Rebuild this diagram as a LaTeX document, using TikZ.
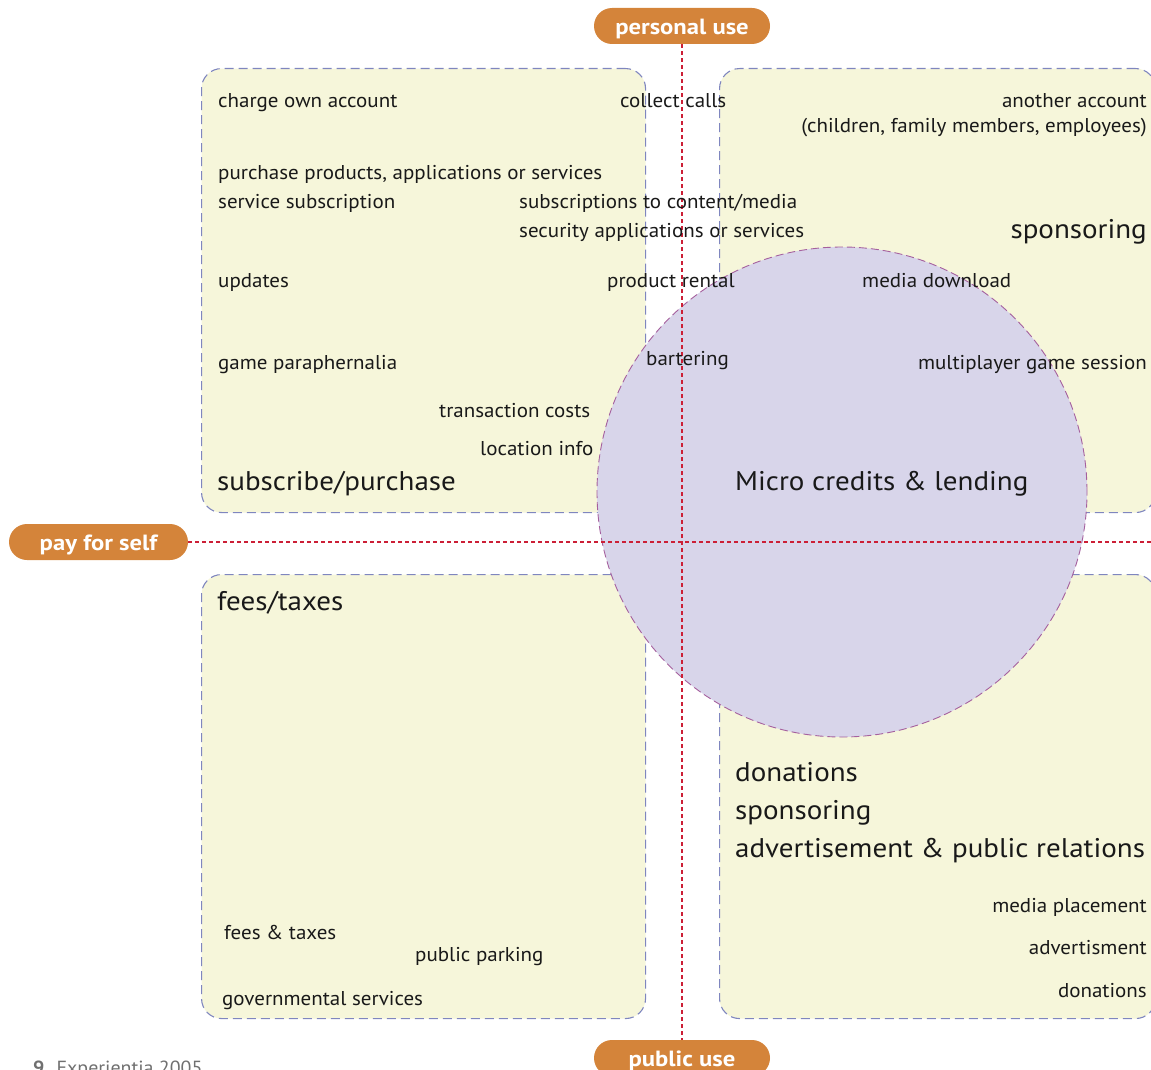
\documentclass[tikz,border=0pt]{standalone}
\usepackage{fontspec}
\setmainfont{PT Sans}
\newfontfamily\smfont[FakeStretch=1.05]{PT Sans}
\newfontfamily\lgfont[FakeStretch=1.075]{PT Sans}
\newfontfamily\pillfont[FakeStretch=1.12]{PT Sans}
\newfontfamily\footfont[FakeStretch=1.05]{PT Sans}
\definecolor{boxfill}{HTML}{F6F6DA}
\definecolor{boxline}{HTML}{7F86BF}
\definecolor{circfill}{HTML}{D8D5EA}
\definecolor{circline}{HTML}{A5609E}
\definecolor{redl}{HTML}{CC1F36}
\definecolor{pillor}{HTML}{D4843A}
\definecolor{footgray}{HTML}{707070}
\begin{document}
\begin{tikzpicture}[x=1pt,y=-1pt,
  qbox/.style={draw=boxline, fill=boxfill, dash pattern=on 9pt off 5pt, line width=1.1pt,
    rounded corners=20pt, minimum width=444pt, minimum height=444pt, inner sep=0pt, anchor=north west},
  pill/.style={fill=pillor, text=white, font=\pillfont\bfseries\fontsize{22}{24}\selectfont,
    rounded corners=18pt, minimum height=36pt, inner sep=0pt, text height=20pt, text depth=3pt},
  redline/.style={draw=redl, line width=2pt, dash pattern=on 4pt off 3pt},
  sm/.style={font=\smfont\fontsize{20}{23}\selectfont, inner sep=0pt, text=black!90},
  lg/.style={font=\lgfont\fontsize{27}{30}\selectfont, inner sep=0pt, text=black!90},
  lw/.style={anchor=base west}, re/.style={anchor=base east}]
\useasboundingbox (0,0) rectangle (1151,1070);
\clip (0,0) rectangle (1151,1070);
% quadrants
\node[qbox] (tl) at (201,68) {};
\node[qbox, minimum width=436pt] (tr) at (719,68) {};
\node[qbox] (bl) at (201,574) {};
\node[qbox, minimum width=436pt] (br) at (719,574) {};
% circle
\node[circle, minimum size=490pt, inner sep=0pt, fill=circfill, draw=circline,
  line width=0.9pt, dash pattern=on 8pt off 4pt] (cred) at (842,492) {};
% pills
\node[pill, minimum width=176pt] (personal) at (682,26) {personal use};
\node[pill, minimum width=176pt] (public) at (682,1058) {public use};
\node[pill, minimum width=179pt] (payself) at (98.5,542) {pay for self};
\coordinate (rightend) at (1151,542);
% axes
\draw[redline] (personal.south) -- (public.north);
\draw[redline] (payself.east) -- (rightend);
% texts top-left
\node[sm,lw] (t1) at (218,108) {charge own account};
\node[sm,lw] (t2) at (620,108) {collect calls};
\node[sm,lw] (t3) at (218,179) {purchase products, applications or services};
\node[sm,lw] (t4) at (218,208) {service subscription};
\node[sm,lw] (t5) at (519,208) {subscriptions to content/media};
\node[sm,lw] (t6) at (519,237) {security applications or services};
\node[sm,lw] (t7) at (218,287) {updates};
\node[sm,lw] (t8) at (607,287) {product rental};
\node[sm,lw] (t9) at (218,369) {game paraphernalia};
\node[sm,lw] (t10) at (646,365) {bartering};
\node[sm,lw] (t11) at (439,417) {transaction costs};
\node[sm,lw] (t12) at (480,455) {location info};
\node[lg,lw] (t13) at (217,490) {subscribe/purchase};
% top-right
\node[sm,re] (t14) at (1147,108) {another account};
\node[sm,re] (t15) at (1147,132) {(children, family members, employees)};
\node[lg,re] (t16) at (1147,238) {sponsoring};
\node[sm,lw] (t17) at (862,287) {media download};
\node[sm,re] (t18) at (1147,369) {multiplayer game session};
\node[lg,lw] (t19) at (735,490) {Micro credits \& lending};
% bottom-left
\node[lg,lw] (t20) at (217,610) {fees/taxes};
\node[sm,lw] (t21) at (224,939) {fees \& taxes};
\node[sm,lw] (t22) at (415,961) {public parking};
\node[sm,lw] (t23) at (222,1005) {governmental services};
% bottom-right
\node[lg,lw] (t24) at (735,781) {donations};
\node[lg,lw] (t25) at (735,819) {sponsoring};
\node[lg,lw] (t26) at (735,857) {advertisement \& public relations};
\node[sm,re] (t27) at (1147,912) {media placement};
\node[sm,re] (t28) at (1147,954) {advertisment};
\node[sm,re] (t29) at (1147,997) {donations};
% footer
\node[anchor=base west, inner sep=0pt, text=footgray, font=\footfont\fontsize{19}{22}\selectfont] (foot) at (33,1074)
  {\textbf{9}\hspace{12pt}Experientia 2005};
\end{tikzpicture}
\end{document}
